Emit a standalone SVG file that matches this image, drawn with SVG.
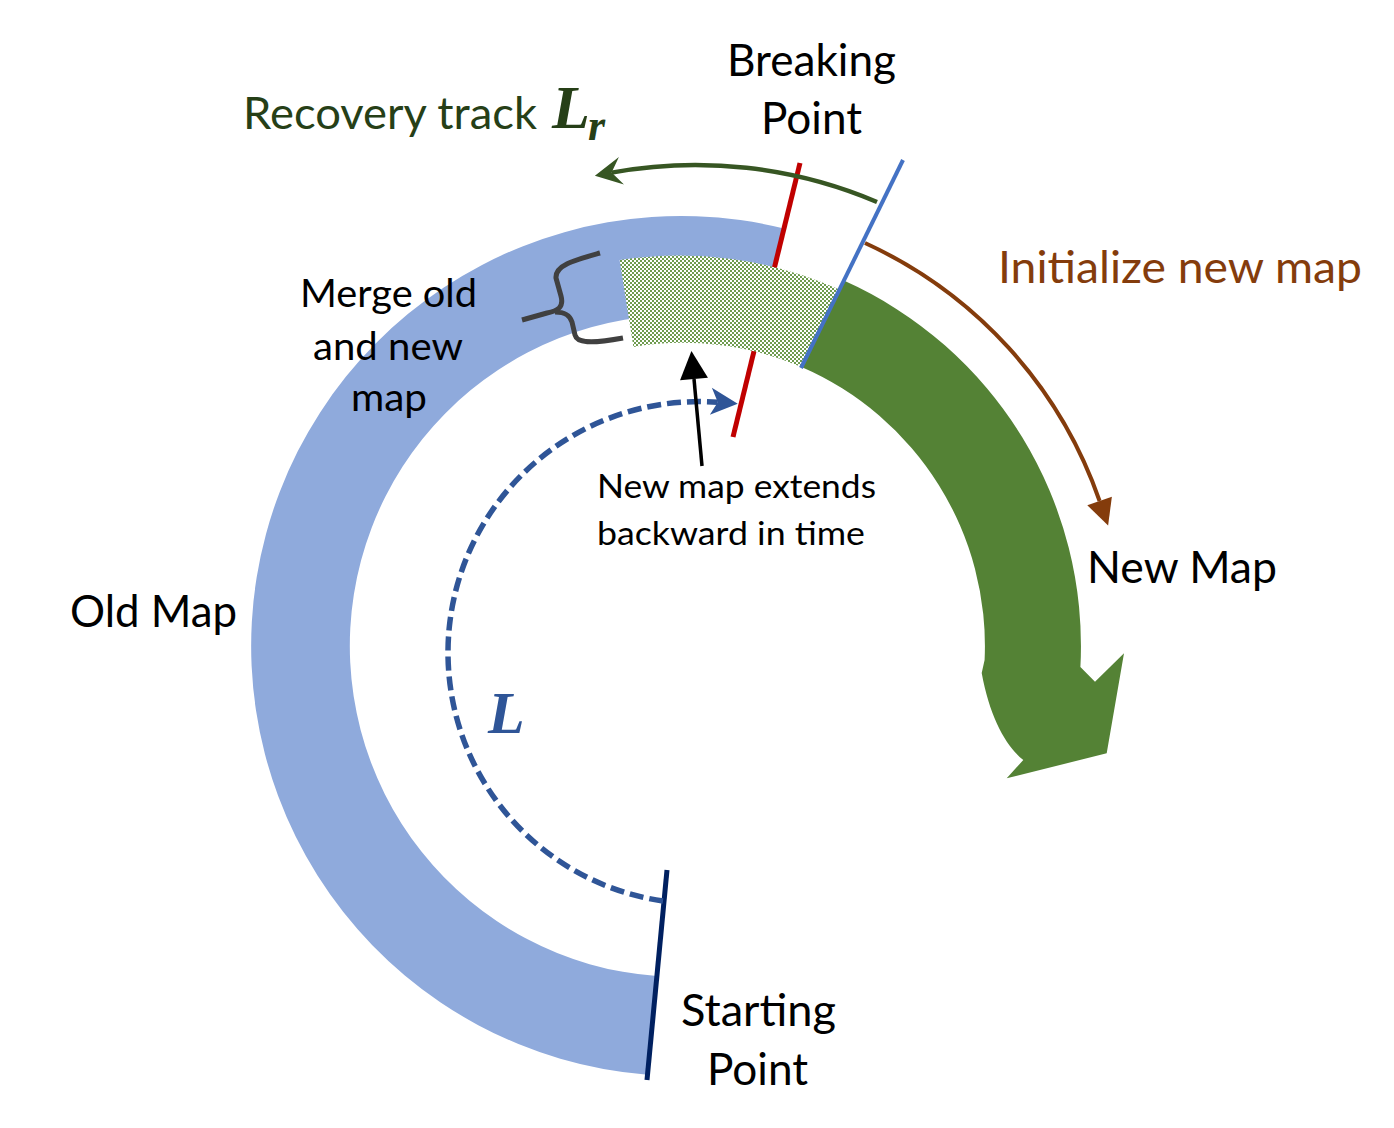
<svg xmlns="http://www.w3.org/2000/svg" width="1394" height="1128" viewBox="0 0 1394 1128">
<style>
.t{font-family:Lato,"Open Sans","Liberation Sans",sans-serif;fill:#000}
.big{font-size:43.5px}
.mid{font-size:38px}
.sm{font-size:33.5px}
.math{font-family:"Liberation Serif","Times New Roman",serif;font-style:italic;font-weight:bold}
</style>
<defs>
<pattern id="dots" patternUnits="userSpaceOnUse" width="4" height="4">
<rect width="4" height="4" fill="#ffffff"/>
<rect x="0" y="0" width="2" height="2" fill="#6E9B4E"/>
<rect x="2" y="2" width="2" height="2" fill="#6E9B4E"/>
</pattern>
<marker id="headRecovery" markerUnits="userSpaceOnUse" viewBox="-30 -16 32 32" refX="-17" refY="0" markerWidth="32" markerHeight="32" orient="auto">
<path d="M0,0 L-27,-14 L-17,0 L-27,14 Z" fill="#375623"/>
</marker>
<marker id="headInit" markerUnits="userSpaceOnUse" viewBox="-30 -16 32 32" refX="-26" refY="0" markerWidth="32" markerHeight="32" orient="auto">
<path d="M0,0 L-26,-13 L-26,13 Z" fill="#843C0C"/>
</marker>
<marker id="headL" markerUnits="userSpaceOnUse" viewBox="-30 -16 32 32" refX="-20" refY="0" markerWidth="32" markerHeight="32" orient="auto">
<path d="M0,0 L-27,-14 L-20,0 L-27,13 Z" fill="#2F5597"/>
</marker>
<marker id="headBlack" markerUnits="userSpaceOnUse" viewBox="-30 -16 32 32" refX="-28" refY="0" markerWidth="32" markerHeight="32" orient="auto">
<path d="M0,0 L-28,-14 L-28,14 Z" fill="#000"/>
</marker>
</defs>
<rect width="1394" height="1128" fill="#fff"/>

<g id="old-map">
<path d="M647.5,1074.7 A430,430 0 1 1 784,228.5 L760.5,324.7 A331,331 0 1 0 656.9,976.1 Z" fill="#8FAADC"/>
</g>
<g id="new-map">
<path d="M843.8,280.6 A400,400 0 0 1 1080.4,667 L1095,681.7 L1124,653.3 L1106.7,753.3 L1006.7,778.3 L1023.3,760 C1006,746 990,718 981.7,673 L984.6,660 A304,304 0 0 0 801.5,366.9 Z" fill="#548235"/>
</g>
<g id="breaking-line-red">
<line x1="800" y1="163" x2="733" y2="437" stroke="#C00000" stroke-width="5"/>
</g>
<g id="merged-region">
<path d="M619.6,260.1 A391,391 0 0 1 839.4,289.6 L801.5,366.9 A303,303 0 0 0 633.4,346.9 Z" fill="url(#dots)"/>
</g>
<g id="breaking-line-blue">
<line x1="903" y1="160" x2="801" y2="368" stroke="#4472C4" stroke-width="4"/>
</g>
<g id="starting-line">
<line x1="667" y1="870" x2="647" y2="1080" stroke="#002060" stroke-width="5"/>
</g>

<g id="connectors" fill="none">
<path id="recovery-arrow" d="M877,202 A464,464 0 0 0 611.6,172.6" stroke="#375623" stroke-width="4.5" marker-end="url(#headRecovery)"/>
<path id="init-arrow" d="M865,243 A443,443 0 0 1 1099.6,501" stroke="#843C0C" stroke-width="4" marker-end="url(#headInit)"/>
<path id="loop-L" d="M663,901 A251,251 0 0 1 717.8,402.3" stroke="#2F5597" stroke-width="5.5" stroke-dasharray="14 6" marker-end="url(#headL)"/>
<path id="extend-arrow" d="M702,466 L694,379" stroke="#000" stroke-width="3.5" marker-end="url(#headBlack)"/>
<path id="brace" d="M600,253 C575,260 555,265 556,278 L561,296 C564,307 558,311 547,313 L522,320 M555,312 C566,312 570,316 572,322 L575,335 C577,343 590,344 623,338" stroke="#404040" stroke-width="5" stroke-linejoin="round" stroke-linecap="butt"/>
</g>

<g id="labels">
<text class="t big" x="727" y="76" textLength="169" lengthAdjust="spacingAndGlyphs">Breaking</text>
<text class="t big" x="761" y="134" textLength="101" lengthAdjust="spacingAndGlyphs">Point</text>
<text class="t big" x="243" y="129" textLength="294" lengthAdjust="spacingAndGlyphs" style="fill:#263F17">Recovery track</text>
<text class="math" x="552" y="128" font-size="62" fill="#263F17">L</text>
<text class="math" x="588" y="140" font-size="44" fill="#263F17">r</text>
<text class="t big" x="998" y="283" textLength="364" lengthAdjust="spacingAndGlyphs" style="fill:#843C0C">Initialize new map</text>
<text class="t mid" x="300" y="307" textLength="177" lengthAdjust="spacingAndGlyphs">Merge old</text>
<text class="t mid" x="313" y="360" textLength="150" lengthAdjust="spacingAndGlyphs">and new</text>
<text class="t mid" x="351" y="411" textLength="76" lengthAdjust="spacingAndGlyphs">map</text>
<text class="t sm" x="597" y="498" textLength="279" lengthAdjust="spacingAndGlyphs">New map extends</text>
<text class="t sm" x="597" y="545" textLength="268" lengthAdjust="spacingAndGlyphs">backward in time</text>
<text class="t big" x="1087" y="583" textLength="190" lengthAdjust="spacingAndGlyphs">New Map</text>
<text class="t big" x="70" y="627" textLength="167" lengthAdjust="spacingAndGlyphs">Old Map</text>
<text class="math" x="488" y="733" font-size="60" fill="#2F5597">L</text>
<text class="t big" x="681" y="1026" textLength="155" lengthAdjust="spacingAndGlyphs">Starting</text>
<text class="t big" x="707" y="1085" textLength="101" lengthAdjust="spacingAndGlyphs">Point</text>
</g>
</svg>
